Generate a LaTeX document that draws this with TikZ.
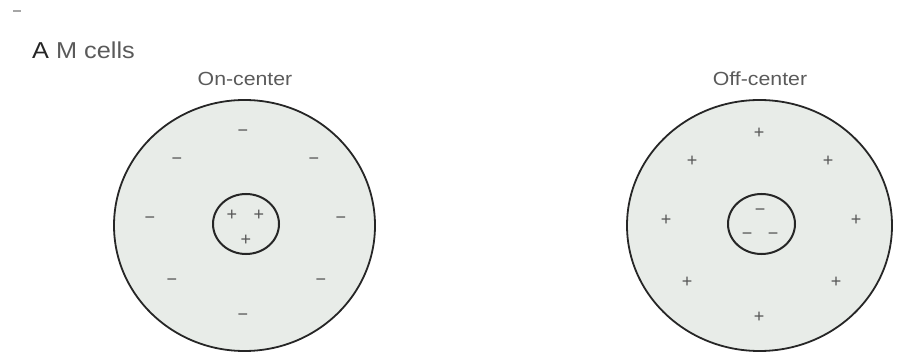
\documentclass[tikz,border=0pt]{standalone}
\usepackage{fontspec}
\setmainfont{Liberation Sans}
\usetikzlibrary{shapes.geometric}
\definecolor{fieldfill}{HTML}{E8ECE8}
\definecolor{labelgray}{HTML}{5A5A5A}
\definecolor{signgray}{HTML}{555555}
\tikzset{
  outerfield/.style={ellipse, draw=black!85, line width=1.8pt, fill=fieldfill, inner sep=0pt},
  innerfield/.style={ellipse, draw=black!85, line width=2pt, inner sep=0pt},
  sign/.style={text=signgray, font=\fontsize{18}{18}\selectfont, inner sep=0pt},
  title/.style={text=labelgray, inner sep=0pt, anchor=base west},
  sub/.style={text=labelgray, inner sep=0pt, anchor=base}
}
\begin{document}
\begin{tikzpicture}[x=1pt,y=-1pt]
\useasboundingbox (0,0) rectangle (899,355);
% small mark top-left
\draw[black!35, line width=1.5pt] (13,11) coordinate (m1) -- (21,11) coordinate (m2);
\node[title, font=\fontsize{23}{23}\selectfont, xscale=1.1] (title) at (32,59) {\textcolor{black!85}{A} M cells};
\node[sub, font=\fontsize{19}{19}\selectfont, xscale=1.12] (onlab) at (245,86) {On-center};
\node[sub, font=\fontsize{19}{19}\selectfont, xscale=1.12] (offlab) at (760,86) {Off-center};
% On-center field
\node[outerfield, minimum width=261pt, minimum height=251pt] (onout) at (244.5,225.5) {};
\node[innerfield, minimum width=66pt, minimum height=60pt] (onin) at (246,224) {};
\foreach \x/\y [count=\i] in {243/133, 177/161, 314/161, 150/220, 341/220, 172/282, 321/282, 243/317}
  \node[sign] (onm\i) at (\x,\y) {−};
\foreach \x/\y [count=\i] in {232/215, 259/215, 246/240}
  \node[sign] (onp\i) at (\x,\y) {+};
% Off-center field
\node[outerfield, minimum width=265pt, minimum height=251pt] (offout) at (759.5,225.5) {};
\node[innerfield, minimum width=67pt, minimum height=60pt] (offin) at (761.5,224) {};
\foreach \x/\y [count=\i] in {759/133, 692/161, 828/161, 666/220, 856/220, 687/282, 836/282, 759/317}
  \node[sign] (offp\i) at (\x,\y) {+};
\foreach \x/\y [count=\i] in {760/212, 747/236, 773/236}
  \node[sign] (offm\i) at (\x,\y) {−};
\end{tikzpicture}
\end{document}
